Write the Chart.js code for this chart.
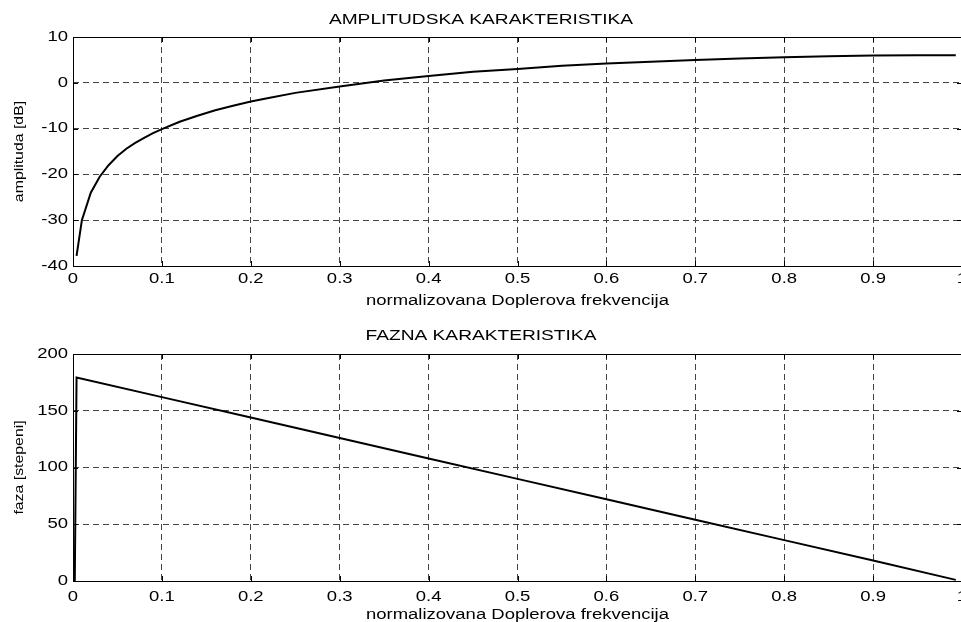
<!DOCTYPE html>
<html>
<head>
<meta charset="utf-8">
<script src="https://cdn.jsdelivr.net/npm/chart.js@4/dist/chart.umd.min.js"></script>
<style>
  html, body { margin: 0; padding: 0; background: #fff; overflow: hidden; width: 961px; height: 622px; }
  .wrap { position: absolute; left: 0; width: 990px; height: 311px; }
  #w1 { top: 0; }
  #w2 { top: 311px; }
</style>
</head>
<body>
<div class="wrap" id="w1"><canvas id="c1"></canvas></div>
<div class="wrap" id="w2"><canvas id="c2"></canvas></div>
<script>
// ---- data ----
const ampFreq = [0.004, 0.01, 0.02, 0.03, 0.04, 0.05, 0.06, 0.07, 0.08, 0.09, 0.10, 0.12, 0.14, 0.16, 0.18, 0.20, 0.22, 0.25, 0.30, 0.35, 0.40, 0.45, 0.50, 0.55, 0.60, 0.65, 0.70, 0.75, 0.80, 0.85, 0.90, 0.95, 0.993];
const ampDb   = [-37.8, -30, -24, -20.5, -18, -16, -14.4, -13.1, -12, -11, -10.1, -8.5, -7.2, -6, -5, -4.1, -3.3, -2.2, -0.8, 0.5, 1.5, 2.4, 3.0, 3.7, 4.2, 4.6, 5.0, 5.3, 5.6, 5.8, 5.95, 6.0, 6.0];
const phaseFreq = [0.002, 0.004, 0.1, 0.2, 0.3, 0.4, 0.5, 0.6, 0.7, 0.8, 0.9, 0.993];
const phaseDeg  = [0, 179.3, 162, 144, 126, 108, 90, 72, 54, 36, 18, 1];
const xTicks = [0, 0.1, 0.2, 0.3, 0.4, 0.5, 0.6, 0.7, 0.8, 0.9, 1];
const ampTicks = [-40, -30, -20, -10, 0, 10];
const phaseTicks = [0, 50, 100, 150, 200];

const title1 = 'AMPLITUDSKA KARAKTERISTIKA';
const title2 = 'FAZNA KARAKTERISTIKA';
const xLabel = 'normalizovana Doplerova frekvencija';
const yLabel1 = 'amplituda [dB]';
const yLabel2 = 'faza [stepeni]';

const FONT = "'Liberation Sans', Arial, sans-serif";
const TEXT_STRETCH = 1.32; // text in the figure is drawn wide along its baseline

// widen glyphs along the text direction (rendering style of the original figure)
function stretchText(ctx, sx) {
  const orig = ctx.fillText;
  ctx.fillText = function (text, x, y) {
    this.save();
    this.translate(x, y);
    this.scale(sx, 1);
    orig.call(this, text, 0, 0);
    this.restore();
  };
}

const boxPlugin = {
  id: 'box',
  afterDraw(chart) {
    const a = chart.chartArea, ctx = chart.ctx;
    ctx.save();
    ctx.strokeStyle = '#000';
    ctx.lineWidth = 1;
    ctx.setLineDash([]);
    ctx.strokeRect(Math.round(a.left) + 0.5, Math.round(a.top) + 0.5, Math.round(a.right - a.left), Math.round(a.bottom - a.top));
    const xs = chart.scales.x, ys = chart.scales.y, L = 5;
    ctx.beginPath();
    xs.ticks.forEach(t => {
      const px = Math.round(xs.getPixelForValue(t.value)) + 0.5;
      ctx.moveTo(px, a.bottom); ctx.lineTo(px, a.bottom - L);
      ctx.moveTo(px, a.top); ctx.lineTo(px, a.top + L);
    });
    ys.ticks.forEach(t => {
      const py = Math.round(ys.getPixelForValue(t.value)) + 0.5;
      ctx.moveTo(a.left, py); ctx.lineTo(a.left + L, py);
      ctx.moveTo(a.right, py); ctx.lineTo(a.right - L, py);
    });
    ctx.stroke();
    ctx.restore();
  }
};

function makeChart(id, xsArr, ysArr, yTicks, titleText, yTitle, cfg) {
  const canvas = document.getElementById(id);
  stretchText(canvas.getContext('2d'), TEXT_STRETCH);
  const pts = xsArr.map((x, i) => ({ x: x, y: ysArr[i] }));
  return new Chart(canvas, {
    type: 'line',
    data: { datasets: [{ data: pts, borderColor: '#000', borderWidth: 2, pointRadius: 0, tension: 0, fill: false }] },
    options: {
      responsive: true,
      maintainAspectRatio: false,
      animation: false,
      events: [],
      layout: { padding: { left: 0, right: 28, top: 0, bottom: 0 } },
      plugins: {
        legend: { display: false },
        tooltip: { enabled: false },
        title: {
          display: true, text: titleText, color: '#000',
          font: { family: FONT, size: 14.5, weight: 'normal', lineHeight: 1.2 },
          padding: cfg.titlePad
        }
      },
      scales: {
        x: {
          type: 'linear', min: 0, max: 1,
          afterBuildTicks: s => { s.ticks = xTicks.map(v => ({ value: v })); },
          afterFit: s => { s.height = cfg.xHeight; },
          ticks: { color: '#000', padding: cfg.xTickPad, maxRotation: 0, autoSkip: false,
                   font: { family: FONT, size: 14 }, callback: v => String(v) },
          grid: { color: '#444', lineWidth: 1, drawTicks: false },
          border: { display: false, dash: [6, 4] },
          title: { display: true, text: xLabel, color: '#000',
                   font: { family: FONT, size: 14, lineHeight: 1 }, padding: { top: 0, bottom: cfg.xTitlePad } }
        },
        y: {
          type: 'linear', min: yTicks[0], max: yTicks[yTicks.length - 1],
          afterBuildTicks: s => { s.ticks = yTicks.map(v => ({ value: v })); },
          afterFit: s => { s.width = 73; },
          ticks: { color: '#000', padding: 5, font: { family: FONT, size: 14 } },
          grid: { color: '#444', lineWidth: 1, drawTicks: false },
          border: { display: false, dash: [6, 4] },
          title: { display: true, text: yTitle, color: '#000',
                   font: { family: FONT, size: 12, lineHeight: 1 }, padding: { top: 14, bottom: 0 } }
        }
      }
    },
    plugins: [boxPlugin]
  });
}

makeChart('c1', ampFreq, ampDb, ampTicks, title1, yLabel1,
  { titlePad: { top: 11, bottom: 8.6 }, xHeight: 45, xTickPad: 5, xTitlePad: 3 });
makeChart('c2', phaseFreq, phaseDeg, phaseTicks, title2, yLabel2,
  { titlePad: { top: 16, bottom: 9.6 }, xHeight: 41, xTickPad: 8, xTitlePad: 0 });
</script>
</body>
</html>
